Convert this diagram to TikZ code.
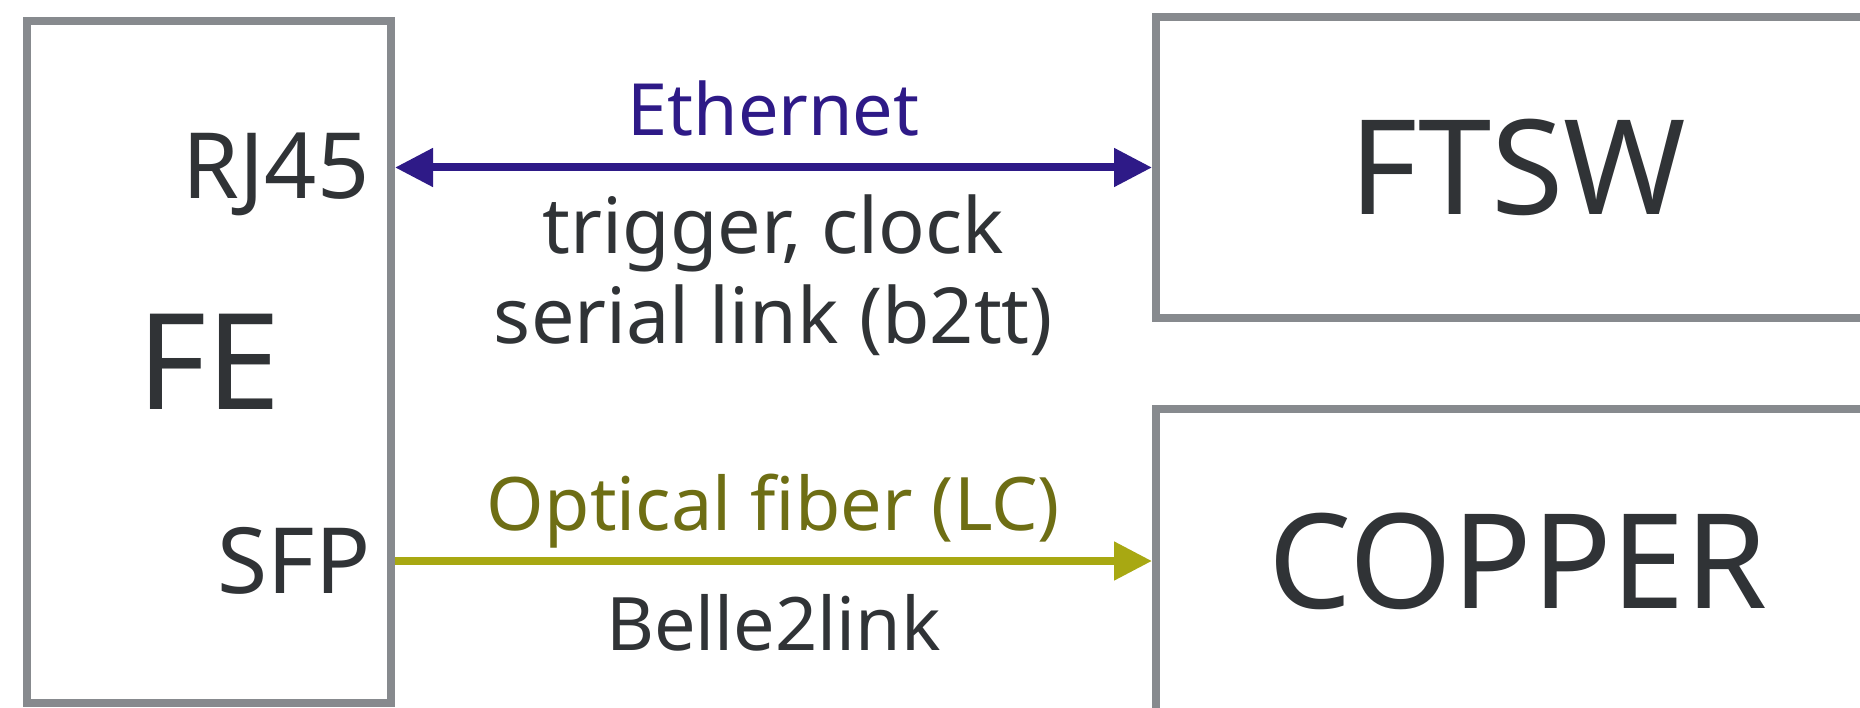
\documentclass[tikz,border=0pt]{standalone}
\usepackage{fontspec}
\setmainfont{Noto Sans}
\usetikzlibrary{arrows.meta}
\definecolor{boxgray}{HTML}{878A8E}
\definecolor{txtdark}{HTML}{303336}
\definecolor{ethblue}{HTML}{2E1A87}
\definecolor{fiberline}{HTML}{A8A812}
\definecolor{fibertext}{HTML}{6E6E14}
\begin{document}
\begin{tikzpicture}[font=\fontsize{21}{24}\selectfont, text=txtdark]
      \tikzstyle{board}=[draw=boxgray,line width=0.08cm,inner sep=0]
      \tikzstyle{big name}=[font=\fontsize{37.5}{42}\selectfont]
      \tikzstyle{port}=[font=\fontsize{26}{28}\selectfont,anchor=base east,inner sep=0]
      \tikzstyle{link}=[line width=0.08cm]
      \tikzstyle{over}=[midway,anchor=base]
      \tikzstyle{wide}=[font=\fontsize{22}{24}\selectfont]

      \useasboundingbox (0,0) rectangle (18.6,7.07);
      \clip (0,0) rectangle (18.6,7.07);

      \node(fe)[board,minimum width=3.64cm,minimum height=6.82cm,font=\fontsize{38}{40}\selectfont] at (2.09,3.45) {FE};
      \node(ftsw)[board,big name,minimum width=7.24cm,minimum height=3.01cm] at (15.18,5.395) {FTSW};
      \node(copper)[board,big name,minimum width=7.24cm,minimum height=3.04cm] at (15.18,1.46) {COPPER};

      \node(rj)[port] at (3.70,5.08) {RJ45};
      \node(sfp)[port] at (3.71,1.14) {SFP};

      % Ethernet, both ways
      \draw[link,draw=ethblue,{Triangle[length=0.38cm,width=0.37cm]}-{Triangle[length=0.38cm,width=0.37cm]}]
          (fe.east |- ftsw.west) -- (ftsw.west)
          node(eth)[over,yshift=0.32cm,text=ethblue,font=\fontsize{20.5}{24}\selectfont]{Ethernet}
          node(trig)[over,wide,yshift=-0.86cm]{trigger, clock}
          node(serial)[over,wide,yshift=-1.76cm]{serial link (b2tt)};

      % optical fiber to COPPER
      \draw[link,draw=fiberline,-{Triangle[length=0.38cm,width=0.37cm]}]
          (fe.east |- copper.west) -- (copper.west)
          node(fiber)[over,yshift=0.31cm,text=fibertext]{Optical fiber (LC)}
          node(b2l)[over,yshift=-0.89cm]{Belle2link};
\end{tikzpicture}
\end{document}
